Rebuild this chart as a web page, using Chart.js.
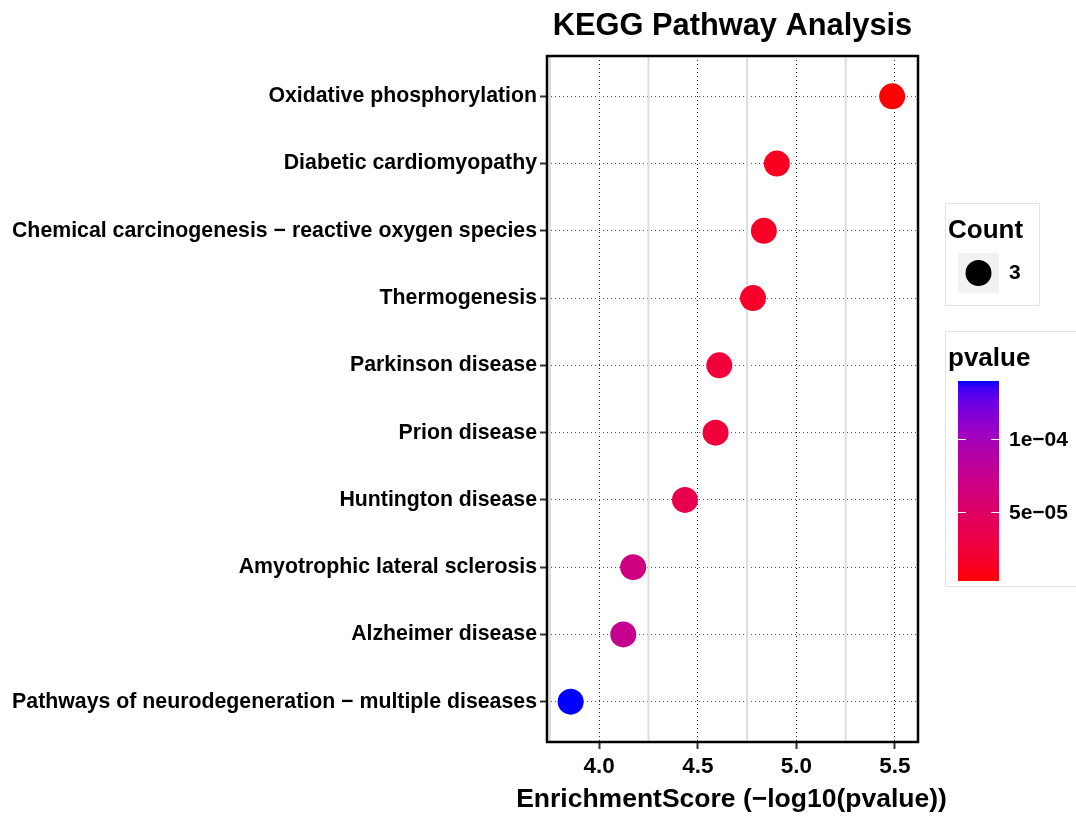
<!DOCTYPE html>
<html>
<head>
<meta charset="utf-8">
<script src="https://cdn.jsdelivr.net/npm/chart.js@4/dist/chart.umd.min.js"></script>
<style>
html,body{margin:0;padding:0;background:#fff;}
#wrap{width:1076px;height:818px;}
</style>
</head>
<body>
<div id="wrap"><canvas id="c" width="1076" height="818"></canvas></div>
<script>
// ---- data (top to bottom) ----
const categories = [
  "Oxidative phosphorylation",
  "Diabetic cardiomyopathy",
  "Chemical carcinogenesis \u2212 reactive oxygen species",
  "Thermogenesis",
  "Parkinson disease",
  "Prion disease",
  "Huntington disease",
  "Amyotrophic lateral sclerosis",
  "Alzheimer disease",
  "Pathways of neurodegeneration \u2212 multiple diseases"
];
const enrichmentScores = [5.486, 4.901, 4.835, 4.780, 4.609, 4.590, 4.435, 4.172, 4.122, 3.855];
const pvalues = [3.266e-6, 1.256e-5, 1.462e-5, 1.660e-5, 2.460e-5, 2.570e-5, 3.673e-5, 6.730e-5, 7.551e-5, 1.396e-4];
const counts = [3, 3, 3, 3, 3, 3, 3, 3, 3, 3];
const xTicks = [4.0, 4.5, 5.0, 5.5];
const xMinorTicks = [3.75, 4.25, 4.75, 5.25];
const countLegendValues = [3];
const pvalueLegendTicks = [1e-4, 5e-5];
const pvalueLegendLabels = ["1e\u221204", "5e\u221205"];
const xAxisTitle = "EnrichmentScore (\u2212log10(pvalue))";
const chartTitle = "KEGG Pathway Analysis";

const FONT = "'Liberation Sans', Arial, Helvetica, sans-serif";

// ---- Lab colour interpolation (red -> blue) ----
function srgbToLin(c){c/=255;return c<=0.04045?c/12.92:Math.pow((c+0.055)/1.055,2.4);}
function linToSrgb(c){c=c<=0.0031308?12.92*c:1.055*Math.pow(c,1/2.4)-0.055;return Math.round(Math.max(0,Math.min(1,c))*255);}
function rgbToLab(rgb){
  const R=srgbToLin(rgb[0]),G=srgbToLin(rgb[1]),B=srgbToLin(rgb[2]);
  const X=(0.4124564*R+0.3575761*G+0.1804375*B)/0.95047;
  const Y=(0.2126729*R+0.7151522*G+0.0721750*B);
  const Z=(0.0193339*R+0.1191920*G+0.9503041*B)/1.08883;
  const f=t=>t>0.008856?Math.cbrt(t):7.787*t+16/116;
  const fx=f(X),fy=f(Y),fz=f(Z);
  return [116*fy-16,500*(fx-fy),200*(fy-fz)];
}
function labToRgb(lab){
  const fy=(lab[0]+16)/116,fx=fy+lab[1]/500,fz=fy-lab[2]/200;
  const fi=t=>{const t3=t*t*t;return t3>0.008856?t3:(t-16/116)/7.787;};
  const X=fi(fx)*0.95047,Y=fi(fy),Z=fi(fz)*1.08883;
  const R= 3.2404542*X-1.5371385*Y-0.4985314*Z;
  const G=-0.9692660*X+1.8760108*Y+0.0415560*Z;
  const B= 0.0556434*X-0.2040259*Y+1.0572252*Z;
  return [linToSrgb(R),linToSrgb(G),linToSrgb(B)];
}
const LOW = rgbToLab([255,0,0]), HIGH = rgbToLab([0,0,255]);
const pMin = Math.min(...pvalues), pMax = Math.max(...pvalues);
function colorAt(t){
  const c = labToRgb([0,1,2].map(k=>LOW[k]+(HIGH[k]-LOW[k])*t));
  return `rgb(${c[0]},${c[1]},${c[2]})`;
}
function pColor(p){ return colorAt((p-pMin)/(pMax-pMin)); }

const points = categories.map((c,i)=>({x:enrichmentScores[i], y:i+1}));
const pointColors = pvalues.map(pColor);

// ---- plugins: minor grid, panel border, axis title, legends ----
const decor = {
  id:'decor',
  beforeDatasetsDraw(chart){
    const {ctx, chartArea:a, scales} = chart;
    ctx.save();
    ctx.strokeStyle = '#dedede';
    ctx.lineWidth = 2;
    xMinorTicks.forEach(v=>{
      const x = scales.x.getPixelForValue(v);
      ctx.beginPath(); ctx.moveTo(x,a.top); ctx.lineTo(x,a.bottom); ctx.stroke();
    });
    ctx.restore();
  },
  afterDatasetsDraw(chart){
    const {ctx, chartArea:a} = chart;
    ctx.save();
    ctx.strokeStyle = '#000';
    ctx.lineWidth = 2.5;
    ctx.strokeRect(a.left, a.top, a.right-a.left, a.bottom-a.top);
    ctx.restore();
  },
  afterDraw(chart){
    const ctx = chart.ctx;
    const a = chart.chartArea;
    ctx.save();
    // x axis title
    ctx.fillStyle='#000'; ctx.font=`bold 26.5px ${FONT}`; ctx.textAlign='center'; ctx.textBaseline='middle';
    ctx.fillText(xAxisTitle, (a.left+a.right)/2 - 1, 800);
    ctx.textAlign='left';
    // Count legend
    ctx.fillStyle='#fff'; ctx.strokeStyle='#e3e3e3'; ctx.lineWidth=1;
    ctx.fillRect(946,204,94,102); ctx.strokeRect(945.5,203.5,94,102);
    ctx.fillStyle='#000'; ctx.font=`bold 26px ${FONT}`; ctx.textBaseline='alphabetic';
    ctx.fillText('Count',948,238);
    countLegendValues.forEach((v,i)=>{
      ctx.fillStyle='#f2f2f2'; ctx.fillRect(958,253,41,40);
      ctx.fillStyle='#000'; ctx.beginPath(); ctx.arc(978.5,273,13,0,Math.PI*2); ctx.fill();
      ctx.font=`bold 21px ${FONT}`; ctx.textBaseline='middle';
      ctx.fillText(String(v),1009,273);
    });
    // pvalue legend
    ctx.fillStyle='#fff'; ctx.strokeStyle='#e3e3e3';
    ctx.fillRect(946,332,130,255); ctx.strokeRect(945.5,331.5,140,255);
    ctx.fillStyle='#000'; ctx.font=`bold 26px ${FONT}`; ctx.textBaseline='alphabetic';
    ctx.fillText('pvalue',948,366);
    const bx=958, bw=41, bTop=381, bBot=581;
    const g = ctx.createLinearGradient(0,bBot,0,bTop);
    for(let k=0;k<=30;k++){ g.addColorStop(k/30, colorAt(k/30)); }
    ctx.fillStyle=g; ctx.fillRect(bx,bTop,bw,bBot-bTop);
    ctx.strokeStyle='#fff'; ctx.lineWidth=1;
    ctx.font=`bold 21px ${FONT}`; ctx.textBaseline='middle'; ctx.fillStyle='#000';
    pvalueLegendTicks.forEach((v,i)=>{
      const y = Math.round(bBot-(v-pMin)/(pMax-pMin)*(bBot-bTop))+0.5;
      ctx.beginPath(); ctx.moveTo(bx,y); ctx.lineTo(bx+8,y); ctx.moveTo(bx+bw-8,y); ctx.lineTo(bx+bw,y); ctx.stroke();
      ctx.fillText(pvalueLegendLabels[i],1009,y+1);
    });
    ctx.restore();
  }
};

new Chart(document.getElementById('c'), {
  type:'scatter',
  data:{ datasets:[{
    data: points,
    pointRadius: 13,
    pointHoverRadius: 13,
    pointBackgroundColor: pointColors,
    pointBorderWidth: 0,
    borderWidth: 0
  }]},
  options:{
    responsive:false,
    animation:false,
    devicePixelRatio:1,
    events:[],
    layout:{ padding:{ left:0, right:158, top:0, bottom:0 } },
    plugins:{
      legend:{display:false},
      tooltip:{enabled:false},
      title:{
        display:true,
        text:chartTitle,
        fullSize:false,
        color:'#000',
        font:{family:FONT, size:30.8, weight:'bold'},
        padding:{top:8, bottom:11.04}
      }
    },
    scales:{
      x:{
        type:'linear', min:3.735, max:5.617,
        afterBuildTicks: s => { s.ticks = xTicks.map(v=>({value:v})); },
        afterFit: s => { s.height = 76; },
        ticks:{ callback: v => Number(v).toFixed(1), color:'#000', padding:4,
                font:{family:FONT, size:22.5, weight:'bold'} },
        grid:{ color:'#222', lineWidth:1, tickColor:'#333', tickLength:7, tickWidth:2 },
        border:{ display:false, dash:[1,3] }
      },
      y:{
        type:'linear', min:0.4, max:10.6, reverse:true,
        afterBuildTicks: s => { s.ticks = categories.map((c,i)=>({value:i+1})); },
        afterFit: s => { s.width = 547; },
        ticks:{ callback: v => categories[v-1], color:'#000', padding:3, autoSkip:false,
                font:{family:FONT, size:21.3, weight:'bold'} },
        grid:{ color:'#555', lineWidth:1, tickColor:'#333', tickLength:7, tickWidth:2 },
        border:{ display:false, dash:[1,3] }
      }
    }
  },
  plugins:[decor]
});
</script>
</body>
</html>
